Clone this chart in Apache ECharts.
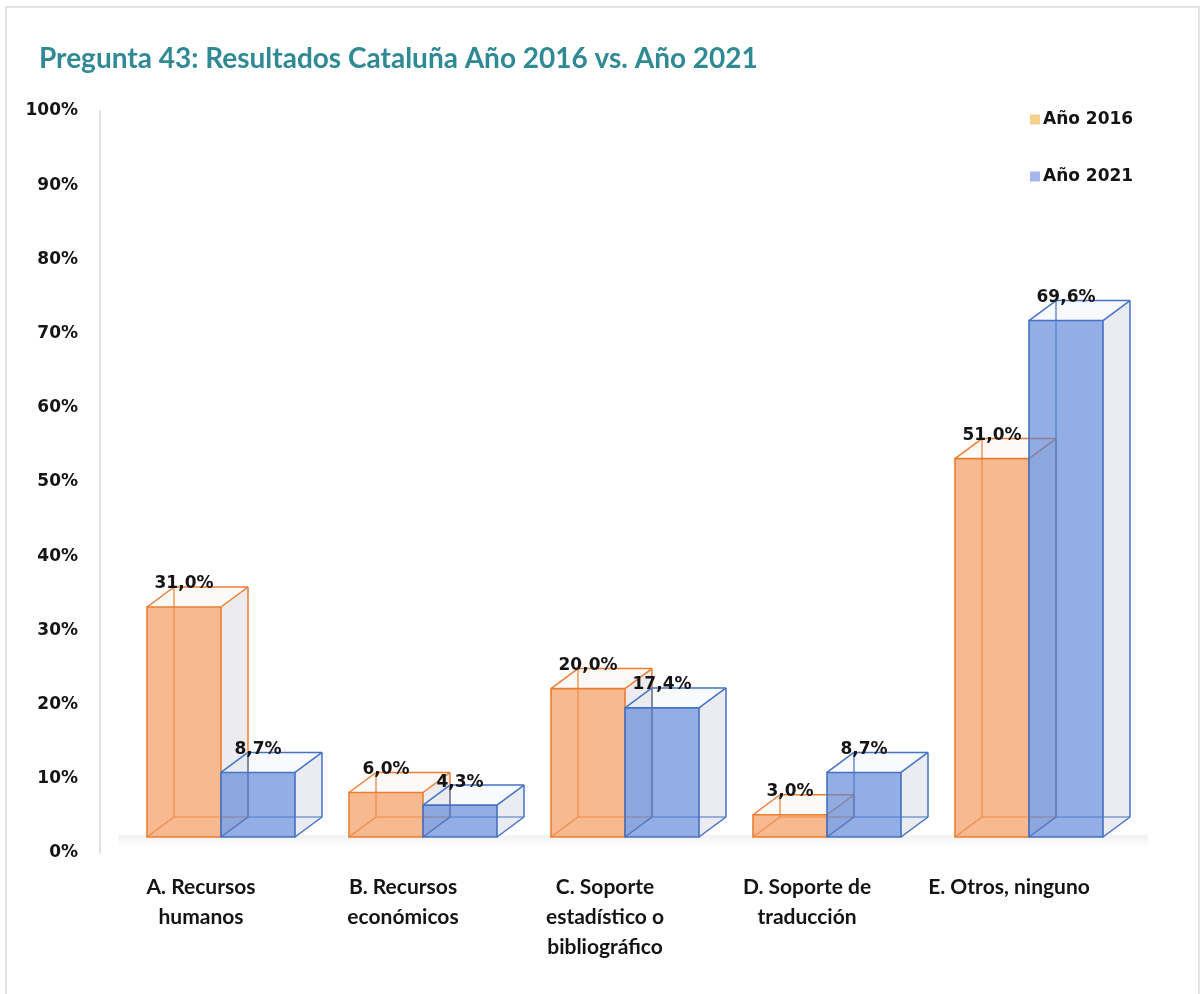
<!DOCTYPE html>
<html>
<head>
<meta charset="utf-8">
<script src="https://cdn.jsdelivr.net/npm/echarts@6/dist/echarts.min.js"></script>
<style>
  html, body { margin: 0; padding: 0; background: #ffffff; }
  #chart { width: 1202px; height: 994px; }
</style>
</head>
<body>
<div id="chart"></div>
<script>
// Categories and answers (percent of respondents)
const categories = [
  'A. Recursos\nhumanos',
  'B. Recursos\neconómicos',
  'C. Soporte\nestadístico o\nbibliográfico',
  'D. Soporte de\ntraducción',
  'E. Otros, ninguno'
];
const seriesNames = ['Año 2016', 'Año 2021'];
const values2016 = [31.0, 6.0, 20.0, 3.0, 51.0];
const values2021 = [8.7, 4.3, 17.4, 8.7, 69.6];
const yTicks = [0, 10, 20, 30, 40, 50, 60, 70, 80, 90, 100];

// Box geometry (pixels) for the pseudo-3D columns
const BAR_W = 74;      // front face width
const DEPTH_X = 27;    // depth offset to the back face
const DEPTH_Y = -20;
const LIFT = 16;       // front face floor sits above the axis zero line
const SHIFT = 20;      // pair of columns sits right of the label centre

const styles = [
  { edge: '#ED7D31', front: 'rgba(243,146,82,0.64)', side: 'rgba(185,185,195,0.28)', top: 'rgba(240,230,225,0.22)', legend: '#F5CF8C' },
  { edge: '#4472C4', front: 'rgba(84,128,212,0.64)', side: 'rgba(180,185,205,0.28)', top: 'rgba(225,230,245,0.22)', legend: '#A8B6EE' }
];

const fmt = v => v.toFixed(1).replace('.', ',') + '%';

function makeRender(idx) {
  const st = styles[idx];
  return function (params, api) {
    const cat = api.value(0);
    const val = api.value(1);
    const base = api.coord([cat, 0]);
    const topPt = api.coord([cat, val]);
    const cx = base[0] + SHIFT;
    const x0 = idx === 0 ? cx - BAR_W : cx;
    const x1 = x0 + BAR_W;
    const yb = base[1] - LIFT;
    const yt = topPt[1] - LIFT;
    const bx0 = x0 + DEPTH_X, bx1 = x1 + DEPTH_X;
    const byb = yb + DEPTH_Y, byt = yt + DEPTH_Y;
    const line = (a, b, c, d, w) => ({
      type: 'line', shape: { x1: a, y1: b, x2: c, y2: d },
      style: { stroke: st.edge, lineWidth: w || 1.5 }
    });
    return {
      type: 'group',
      children: [
        // right side face
        { type: 'polygon', shape: { points: [[x1, yt], [bx1, byt], [bx1, byb], [x1, yb]] },
          style: { fill: st.side } },
        // top face
        { type: 'polygon', shape: { points: [[x0, yt], [bx0, byt], [bx1, byt], [x1, yt]] },
          style: { fill: st.top } },
        // hidden back edges
        line(bx0, byt, bx0, byb, 1.2),
        line(bx0, byb, bx1, byb, 1.2),
        line(x0, yb, bx0, byb, 1.2),
        // visible back/top/side edges
        line(bx0, byt, bx1, byt),
        line(bx1, byt, bx1, byb),
        line(x0, yt, bx0, byt),
        line(x1, yt, bx1, byt),
        line(x1, yb, bx1, byb),
        // front face
        { type: 'rect', shape: { x: x0, y: yt, width: BAR_W, height: yb - yt },
          style: { fill: st.front, stroke: st.edge, lineWidth: 1.6 } },
        // value label
        { type: 'text', z2: 100,
          style: { text: fmt(val), x: x0 + BAR_W / 2, y: byt - 3,
                   align: 'center', verticalAlign: 'middle',
                   font: 'bold 17px "DejaVu Sans"', fill: '#141414' } }
      ]
    };
  };
}

const chart = echarts.init(document.getElementById('chart'), null, { renderer: 'canvas' });

chart.setOption({
  backgroundColor: '#ffffff',
  animation: false,
  title: {
    text: 'Pregunta 43: Resultados Cataluña Año 2016 vs. Año 2021',
    left: 34, top: 40,
    textStyle: { fontFamily: 'Lato', fontWeight: 'bold', fontSize: 28, color: '#2F8A94' }
  },
  legend: {
    orient: 'vertical',
    left: 1025, top: 106,
    itemWidth: 10, itemHeight: 10, itemGap: 40,
    icon: 'rect',
    data: seriesNames,
    textStyle: { fontFamily: 'DejaVu Sans', fontWeight: 'bold', fontSize: 17, color: '#141414', padding: [0, 0, 0, -2] }
  },
  grid: { left: 100, right: 92, top: 111, bottom: 141, containLabel: false },
  xAxis: {
    type: 'category',
    data: categories,
    axisLine: { show: false },
    axisTick: { show: false },
    axisLabel: {
      interval: 0, margin: 19,
      fontFamily: 'Lato', fontWeight: 'bold', fontSize: 21, lineHeight: 30, color: '#141414'
    }
  },
  yAxis: {
    type: 'value',
    min: yTicks[0], max: yTicks[yTicks.length - 1], interval: 10,
    axisLine: { show: true, lineStyle: { color: '#d9d9d9', width: 1.5 } },
    axisTick: { show: false },
    splitLine: { show: false },
    axisLabel: {
      margin: 22, formatter: '{value}%',
      fontFamily: 'DejaVu Sans', fontWeight: 'bold', fontSize: 17, color: '#141414'
    }
  },
  graphic: [
    { type: 'rect', shape: { x: 6, y: 7, width: 1193, height: 1000 },
      style: { fill: 'none', stroke: '#dcdcdc', lineWidth: 1.5 }, silent: true },
    { type: 'rect', shape: { x: 118, y: 835, width: 1030, height: 14 }, z: -1,
      style: { fill: new echarts.graphic.LinearGradient(0, 0, 0, 1, [
        { offset: 0, color: 'rgba(0,0,0,0.05)' },
        { offset: 1, color: 'rgba(0,0,0,0)' }
      ]) }, silent: true }
  ],
  series: [
    { name: seriesNames[0], type: 'custom', itemStyle: { color: styles[0].legend },
      renderItem: makeRender(0),
      data: values2016.map((v, i) => [i, v]) },
    { name: seriesNames[1], type: 'custom', itemStyle: { color: styles[1].legend },
      renderItem: makeRender(1),
      data: values2021.map((v, i) => [i, v]) }
  ]
});
</script>
</body>
</html>
